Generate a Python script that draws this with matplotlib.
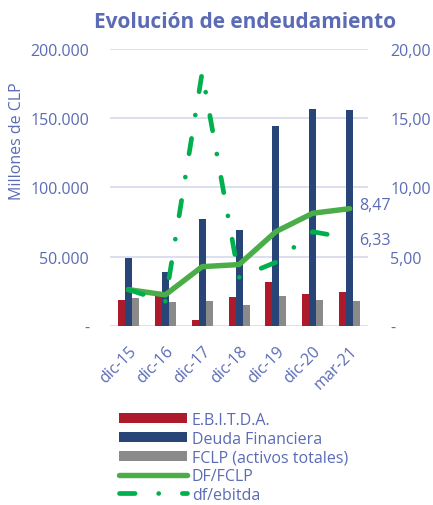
import matplotlib
matplotlib.use("Agg")
import matplotlib.pyplot as plt
from matplotlib.lines import Line2D
from matplotlib.patches import Patch
from matplotlib.ticker import FuncFormatter
import numpy as np

plt.rcParams['font.family'] = ['Open Sans', 'DejaVu Sans']

categories = ["dic-15", "dic-16", "dic-17", "dic-18", "dic-19", "dic-20", "mar-21"]
ebitda = [18500, 22000, 4200, 21000, 31500, 23100, 24300]
deuda = [48900, 39200, 77000, 69500, 144200, 156500, 156200]
fclp = [20000, 17300, 17800, 15200, 21400, 18800, 18000]
df_fclp = [2.62, 2.24, 4.28, 4.43, 6.81, 8.14, 8.47]
df_ebitda = [2.62, 1.75, 18.3, 3.5, 4.6, 6.8, 6.33]

TXT = "#5b6bb5"
RED = "#ad1a2b"
BLUE = "#284577"
GRAY = "#8a8a8a"
G1 = "#4aad48"
G2 = "#00b04f"
GRID = "#d9dcec"
FS = 11.5

fig = plt.figure(figsize=(4.33, 5.06), dpi=100)
ax = fig.add_axes([0.254, 0.354, 0.596, 0.547])
ax2 = ax.twinx()

x = np.arange(len(categories))
w = 0.19
ax.bar(x - w, ebitda, w, color=RED, zorder=2)
ax.bar(x, deuda, w, color=BLUE, zorder=2)
ax.bar(x + w, fclp, w, color=GRAY, zorder=2)

ax.set_ylim(0, 200000)
ax.set_yticks([0, 50000, 100000, 150000, 200000])
ax.yaxis.set_major_formatter(FuncFormatter(lambda v, p: "-" if v == 0 else f"{int(v):,}".replace(",", ".")))
ax.set_xlim(-0.5, len(categories) - 0.5)
ax.set_xticks(x)
ax.set_xticklabels(categories, rotation=45, ha="right", va="top", rotation_mode="anchor")
ax.grid(axis="y", color=GRID, lw=1.3, zorder=0)
ax.set_axisbelow(True)

ax2.set_ylim(0, 20)
ax2.set_yticks([0, 5, 10, 15, 20])
ax2.yaxis.set_major_formatter(FuncFormatter(lambda v, p: "-" if v == 0 else f"{v:.2f}".replace(".", ",")))

for a in (ax, ax2):
    for s in a.spines.values():
        s.set_visible(False)
    a.tick_params(length=0, colors=TXT, labelsize=FS)
ax.tick_params(axis="y", pad=15)
ax.tick_params(axis="x", pad=12)
ax2.tick_params(axis="y", pad=16)

ax2.plot(x, df_fclp, color=G1, lw=3.9, solid_capstyle="round", solid_joinstyle="round", zorder=3)
dash_style = (0, (3.3, 5.0, 0.01, 5.0))
ax2.plot(x, df_ebitda, color=G2, lw=3.4, linestyle=dash_style, dash_capstyle="round", zorder=4)

ax2.annotate(f"{df_fclp[-1]:.2f}".replace(".", ","), (x[-1], df_fclp[-1]), xytext=(7, -3),
             textcoords="offset points", color=TXT, fontsize=FS, va="bottom", ha="left")
ax2.annotate(f"{df_ebitda[-1]:.2f}".replace(".", ","), (x[-1], df_ebitda[-1]), xytext=(7, -1),
             textcoords="offset points", color=TXT, fontsize=FS, va="center", ha="left")

fig.text(0.565, 0.955, "Evolución de endeudamiento", color=TXT, fontsize=15, fontweight="bold",
         ha="center", va="center")
fig.text(0.04, 0.72, "Millones de CLP", color=TXT, fontsize=FS, rotation=90, ha="center", va="center")

handles = [
    Patch(facecolor=RED, edgecolor="none"),
    Patch(facecolor=BLUE, edgecolor="none"),
    Patch(facecolor=GRAY, edgecolor="none"),
    Line2D([], [], color=G1, lw=3.9, solid_capstyle="round"),
    Line2D([], [], color=G2, lw=3.4, linestyle=dash_style, dash_capstyle="round"),
]
labels = ["E.B.I.T.D.A.", "Deuda Financiera", "FCLP (activos totales)", "DF/FCLP", "df/ebitda"]
leg = fig.legend(handles, labels, loc="upper left", bbox_to_anchor=(0.275, 0.184), frameon=False,
                 fontsize=FS, handlelength=4.25, handleheight=0.62, handletextpad=0.3,
                 labelspacing=0.17, borderaxespad=0, borderpad=0)
for t in leg.get_texts():
    t.set_color(TXT)

fig.savefig("out.png", dpi=100, facecolor="white")
